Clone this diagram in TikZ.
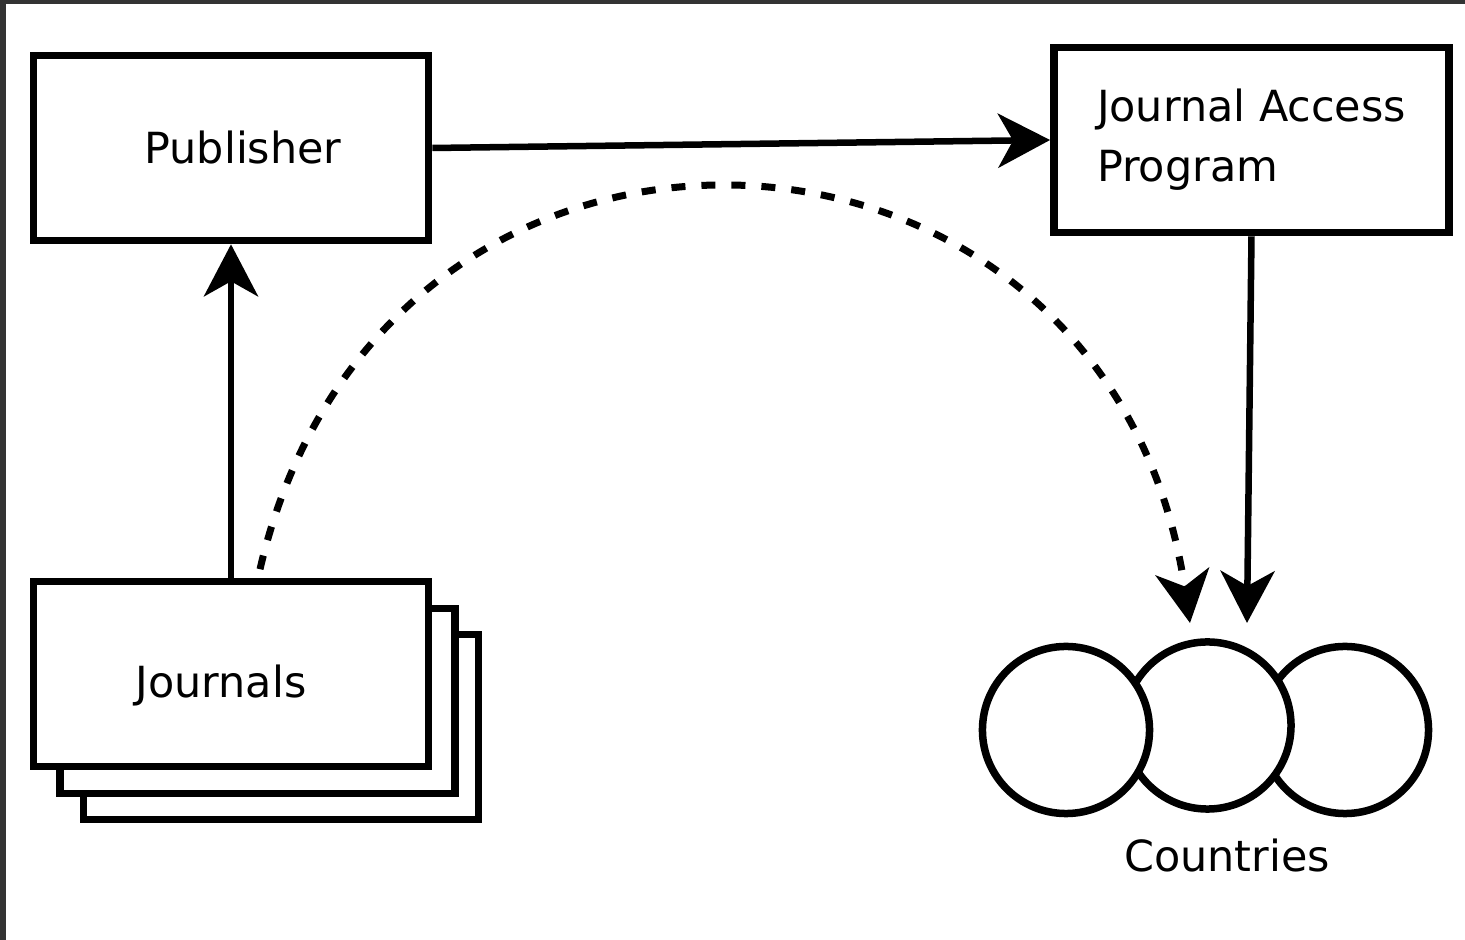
\documentclass[tikz,border=0pt]{standalone}
\usepackage{fontspec}
\setmainfont{DejaVu Sans}
\usetikzlibrary{arrows.meta}
\tikzset{
	box/.style={draw, line width=0.075cm, minimum width=3.95cm, minimum height=1.85cm, inner sep=0pt, fill=white, font=\fontsize{12.2}{17}\selectfont},
	country/.style={draw, circle, line width=0.075cm, minimum size=1.67cm, inner sep=0pt, fill=white},
	pfeil/.style={line width=0.065cm, -{Stealth[length=0.52cm, width=0.54cm, inset=0.15cm]}},
}
\begin{document}
\begin{tikzpicture}[x=0.01cm, y=-0.01cm]
	\useasboundingbox (0,0) rectangle (1465,940);
	\fill[black!80] (0,0) rectangle (1465,940);%Rahmen
	\fill[white] (6,4) rectangle (1465,940);

	\node[box] (publisher) at (231,148) {\hspace*{0.24cm}Publisher};
	\node[box, align=left] (jap) at (1251.5,140) {Journal Access\\Program};
	\node[box] (journals3) at (281,727) {};%Stapel hinten
	\node[box] (journals2) at (257.5,701) {};
	\node[box] (journals) at (231,674) {\raisebox{-0.23cm}[0pt][0pt]{Journals}\hspace*{0.2cm}};

	\node[country] (c3) at (1345,730) {};%Kreise rechts nach links
	\node[country] (c2) at (1207.5,725.5) {};
	\node[country] (c1) at (1066,730) {};
	\node[anchor=base, inner sep=0pt, font=\fontsize{12.2}{17}\selectfont] (countries) at (1227,872) {Countries};

	\coordinate (c2in) at (1247,623);
	\coordinate (c2dash) at (1190,623);

	\draw[pfeil] (journals.north) -- (publisher.south);
	\draw[pfeil] (publisher.east) -- (jap.west);
	\draw[pfeil] (jap.south) -- (c2in);
	\draw[pfeil, line width=0.07cm, dash pattern=on 0.14cm off 0.16cm] ([xshift=0.29cm, yshift=0.085cm]journals.north) .. controls (384,36) and (1108,72) .. (c2dash);%Bogen gestrichelt

\end{tikzpicture}
\end{document}
